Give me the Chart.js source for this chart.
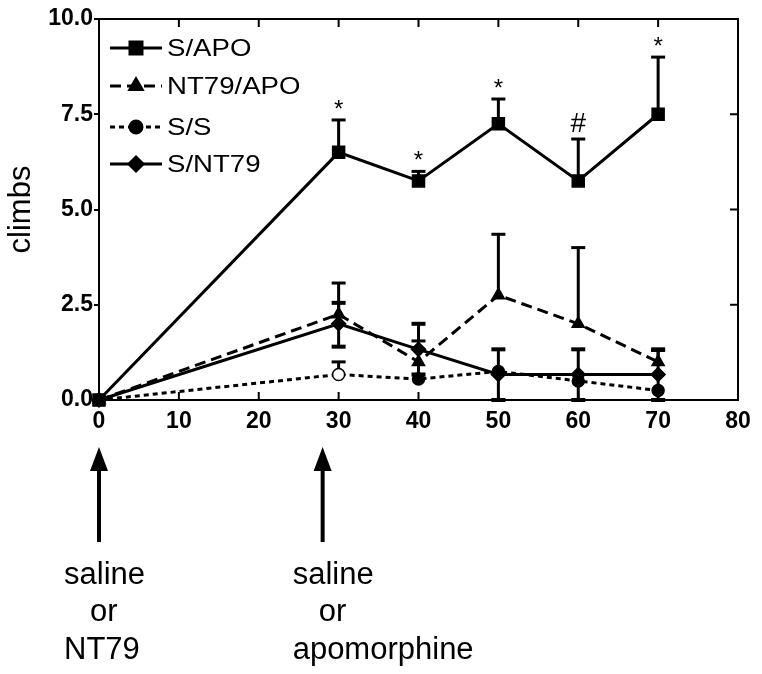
<!DOCTYPE html>
<html>
<head>
<meta charset="utf-8">
<script src="https://cdn.jsdelivr.net/npm/chart.js@4.4.1/dist/chart.umd.min.js"></script>
<style>
  body { margin: 0; background: #fff; }
  #wrap { width: 762px; height: 674px; position: relative; }
</style>
</head>
<body>
<div id="wrap"><canvas id="myChart"></canvas></div>
<script>
// time (min)
var times = [0, 30, 40, 50, 60, 70];

// mean climbs per group
var sApo   = [0, 6.5, 5.75, 7.25, 5.75, 7.5];
var ntApo  = [0, 2.25, 1.0, 2.75, 2.0, 1.0];
var sS     = [0, 0.67, 0.55, 0.75, 0.5, 0.25];
var sNt    = [0, 2.0, 1.33, 0.67, 0.67, 0.67];

// error bar ends (absolute values, null = none)
var sApoUp  = [null, 7.35, 6.0, 7.9, 6.85, 9.0];
var ntApoUp = [null, 3.07, 1.55, 4.35, 4.0, 1.3];
var sSUp    = [null, 1.0, null, null, null, null];
var sNtUp   = [null, 2.55, 2.0, 1.33, 1.33, 1.33];
var sNtLow  = [null, 1.4, 0.67, 0, 0, 0];

// significance marks above S/APO
var markX    = [30, 40, 50, 60, 70];
var markText = ['*', '*', '*', '#', '*'];

// injection arrows
var arrowX = [0, 28];
var arrowText = [['saline', 'or', 'NT79'], ['saline', 'or', 'apomorphine']];

var yTicks = [0, 2.5, 5, 7.5, 10];
var xTicks = [0, 10, 20, 30, 40, 50, 60, 70, 80];

function pts(vals) {
    return times.map(function(t, i) { return { x: t, y: vals[i] }; });
}

var series = [
    { label: 'S/APO',    data: sApo,  up: sApoUp,  low: null,   style: 'rect',     radius: 8.5, dash: [],      cap: 3, fill: '#000' },
    { label: 'NT79/APO', data: ntApo, up: ntApoUp, low: null,   style: 'triangle', radius: 7,   dash: [11, 6], cap: 3, fill: '#000' },
    { label: 'S/S',      data: sS,    up: sSUp,    low: null,   style: 'circle',   radius: 6,   dash: [5, 4],  cap: 3,
      fill: ['#000', '#fff', '#000', '#000', '#000', '#000'] },
    { label: 'S/NT79',   data: sNt,   up: sNtUp,   low: sNtLow, style: 'rectRot',  radius: 7,   dash: [],      cap: 4, fill: '#000' }
];

var FONT = '"Liberation Sans", Arial, sans-serif';

var decor = {
    id: 'decor',
    beforeDatasetsDraw: function(chart) {
        var ctx = chart.ctx, xs = chart.scales.x, ys = chart.scales.y;
        ctx.save();
        ctx.strokeStyle = '#000';
        ctx.setLineDash([]);
        series.forEach(function(s) {
            times.forEach(function(t, i) {
                var px = xs.getPixelForValue(t);
                var py = ys.getPixelForValue(s.data[i]);
                [s.up, s.low].forEach(function(arr) {
                    if (!arr || arr[i] === null) return;
                    var pe = ys.getPixelForValue(arr[i]);
                    ctx.lineWidth = 3;
                    ctx.beginPath(); ctx.moveTo(px, py); ctx.lineTo(px, pe); ctx.stroke();
                    ctx.lineWidth = s.cap;
                    ctx.beginPath(); ctx.moveTo(px - 7, pe); ctx.lineTo(px + 7, pe); ctx.stroke();
                });
            });
        });
        ctx.restore();
    },
    afterDraw: function(chart) {
        var ctx = chart.ctx, xs = chart.scales.x, ys = chart.scales.y;
        var a = chart.chartArea;
        ctx.save();
        // frame
        ctx.strokeStyle = '#000';
        ctx.lineWidth = 2;
        ctx.setLineDash([]);
        ctx.strokeRect(a.left, a.top, a.right - a.left, a.bottom - a.top);
        // inside ticks (top, bottom, right)
        xTicks.forEach(function(v) {
            var px = xs.getPixelForValue(v);
            ctx.beginPath();
            ctx.moveTo(px, a.bottom); ctx.lineTo(px, a.bottom - 8);
            ctx.moveTo(px, a.top); ctx.lineTo(px, a.top + 8);
            ctx.stroke();
        });
        yTicks.forEach(function(v) {
            var py = ys.getPixelForValue(v);
            ctx.beginPath();
            ctx.moveTo(a.right, py); ctx.lineTo(a.right - 8, py);
            ctx.stroke();
        });

        // significance marks
        ctx.fillStyle = '#000';
        ctx.textAlign = 'center';
        ctx.textBaseline = 'alphabetic';
        markX.forEach(function(x, k) {
            var i = times.indexOf(x);
            var py = ys.getPixelForValue(sApoUp[i]) - 17;
            var px = xs.getPixelForValue(x);
            if (markText[k] === '#') {
                ctx.font = '28px ' + FONT;
                ctx.fillText('#', px, py + 10);
            } else {
                ctx.font = '24px ' + FONT;
                ctx.fillText('*', px, py + 14);
            }
        });

        // legend
        series.forEach(function(s, i) {
            var ly = [48, 86, 127, 164][i];
            ctx.lineWidth = 3;
            ctx.setLineDash(s.dash);
            ctx.beginPath(); ctx.moveTo(110, ly); ctx.lineTo(162, ly); ctx.stroke();
            ctx.setLineDash([]);
            ctx.fillStyle = '#000';
            Chart.helpers.drawPoint(ctx, { pointStyle: s.style, radius: s.radius, borderWidth: 1 }, 136, ly);
            ctx.save();
            ctx.translate(167, ly);
            ctx.scale(1.15, 1);
            ctx.font = '24px ' + FONT;
            ctx.textAlign = 'left';
            ctx.textBaseline = 'middle';
            ctx.fillText(s.label, 0, 1);
            ctx.restore();
        });

        // arrows and labels
        arrowX.forEach(function(v, k) {
            var px = xs.getPixelForValue(v);
            ctx.fillStyle = '#000';
            ctx.lineWidth = 4;
            ctx.beginPath(); ctx.moveTo(px, 468); ctx.lineTo(px, 542); ctx.stroke();
            ctx.beginPath();
            ctx.moveTo(px, 447); ctx.lineTo(px - 9, 471); ctx.lineTo(px + 9, 471); ctx.closePath();
            ctx.fill();
            ctx.font = '31px ' + FONT;
            ctx.textAlign = 'left';
            ctx.textBaseline = 'alphabetic';
            var left = px - (k === 0 ? 35 : 30);
            var lines = arrowText[k];
            ctx.fillText(lines[0], left, 584);
            ctx.fillText(lines[1], left + 26, 621);
            ctx.fillText(lines[2], left, 659);
        });
        ctx.restore();
    }
};

var ctx = document.getElementById('myChart').getContext('2d');
var chartInstance = new Chart(ctx, {
    type: 'line',
    data: {
        datasets: series.map(function(s) {
            return {
                label: s.label,
                data: pts(s.data),
                borderColor: '#000',
                backgroundColor: '#000',
                borderWidth: 3,
                borderDash: s.dash,
                pointStyle: s.style,
                pointRadius: s.radius,
                pointBorderWidth: 1.5,
                pointBackgroundColor: s.fill,
                pointBorderColor: '#000',
                fill: false,
                clip: false,
                tension: 0
            };
        })
    },
    options: {
        responsive: true,
        maintainAspectRatio: false,
        animation: false,
        layout: { padding: { left: 0, top: 19, right: 24, bottom: 0 } },
        plugins: {
            legend: { display: false },
            tooltip: { enabled: false }
        },
        scales: {
            x: {
                type: 'linear',
                min: 0,
                max: 80,
                afterFit: function(scale) { scale.height = 274; },
                afterBuildTicks: function(scale) {
                    scale.ticks = xTicks.map(function(v) { return { value: v }; });
                },
                grid: { display: false, drawTicks: false },
                border: { display: false },
                ticks: {
                    padding: 8,
                    color: '#000',
                    font: { family: FONT, size: 23, weight: 'bold' },
                    maxRotation: 0
                }
            },
            y: {
                type: 'linear',
                min: 0,
                max: 10,
                afterFit: function(scale) { scale.width = 99; },
                afterBuildTicks: function(scale) {
                    scale.ticks = yTicks.map(function(v) { return { value: v }; });
                },
                grid: { drawOnChartArea: false, drawTicks: true, tickLength: 5, color: '#000', lineWidth: 2 },
                border: { display: false },
                title: {
                    display: true,
                    text: 'climbs',
                    color: '#000',
                    font: { family: FONT, size: 31 },
                    padding: { top: 3, bottom: 0 }
                },
                ticks: {
                    padding: 1,
                    color: '#000',
                    font: { family: FONT, size: 23, weight: 'bold' },
                    callback: function(v) { return v.toFixed(1); }
                }
            }
        }
    },
    plugins: [decor]
});
</script>
</body>
</html>
